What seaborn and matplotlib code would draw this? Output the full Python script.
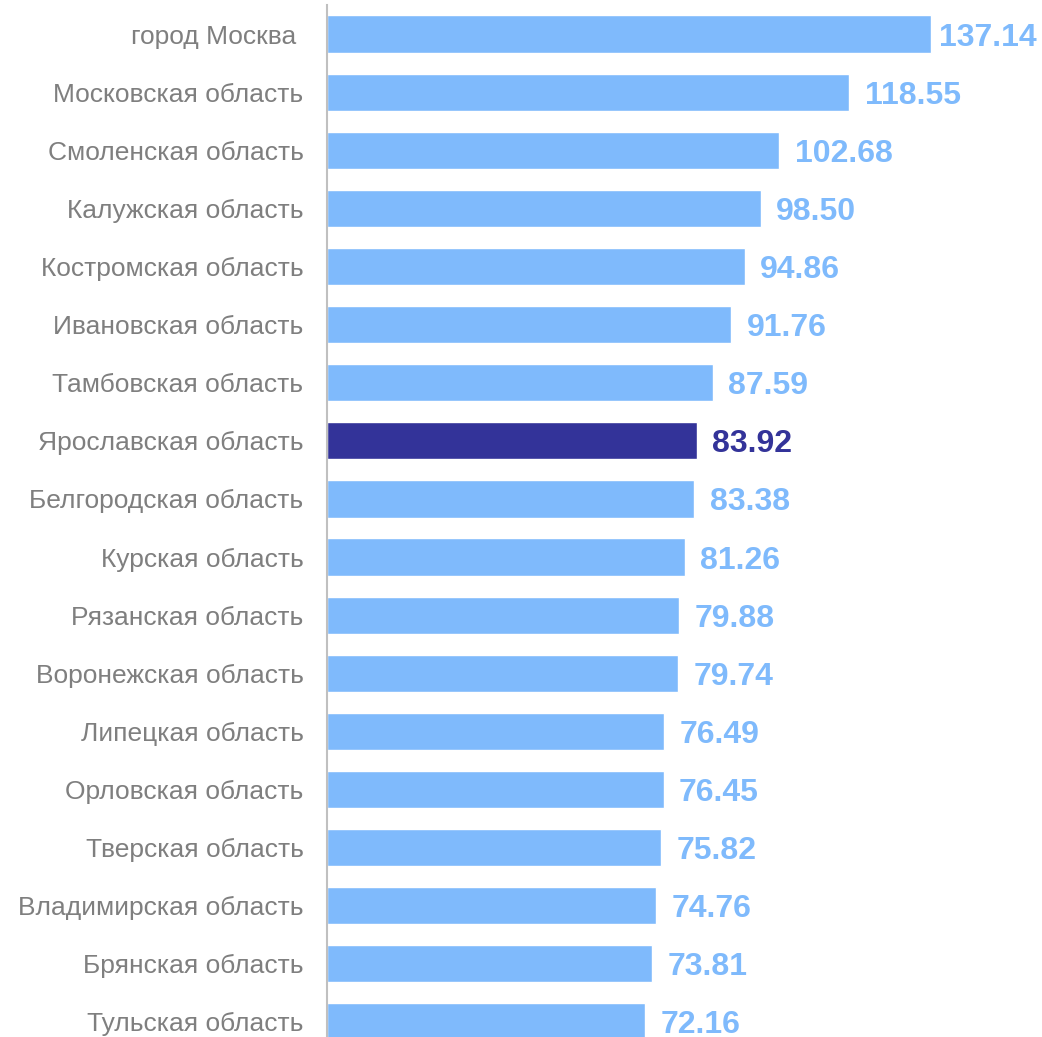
import matplotlib.pyplot as plt
import seaborn as sns

regions = ['город Москва ', 'Московская область', 'Смоленская область', 'Калужская область',
           'Костромская область', 'Ивановская область', 'Тамбовская область', 'Ярославская область',
           'Белгородская область', 'Курская область', 'Рязанская область', 'Воронежская область',
           'Липецкая область', 'Орловская область', 'Тверская область', 'Владимирская область',
           'Брянская область', 'Тульская область']
values = [137.14, 118.55, 102.68, 98.50, 94.86, 91.76, 87.59, 83.92, 83.38, 81.26,
          79.88, 79.74, 76.49, 76.45, 75.82, 74.76, 73.81, 72.16]
highlight = 'Ярославская область'

light = '#7fbafc'
dark = '#333399'
palette = {r: (dark if r == highlight else light) for r in regions}

sns.set_style('white')
plt.rcParams['font.family'] = ['Liberation Sans', 'DejaVu Sans']

fig = plt.figure(figsize=(10.42, 10.37), dpi=100)
ax = fig.add_axes([327 / 1042, -14 / 1037, 715 / 1042, 1046 / 1037])

sns.barplot(x=values, y=regions, hue=regions, palette=palette, legend=False,
            orient='h', width=0.64, saturation=1, ax=ax)

# value labels, the top one squeezed in a bit like the original
for i, (r, v) in enumerate(zip(regions, values)):
    ax.annotate(f'{v:.2f}', xy=(v, i), xytext=(6 if i == 0 else 11, 0),
                textcoords='offset points', va='center_baseline', ha='left',
                fontsize=23, fontweight='bold', color=palette[r])

ax.set_xlim(0, 162.3)
ax.set_ylim(17.5, -0.5)
ax.set_xlabel('')
ax.set_ylabel('')
ax.set_xticks([])
ax.tick_params(axis='y', length=0, pad=17, labelsize=19, labelcolor='#7f7f7f')

for s in ['top', 'right', 'bottom']:
    ax.spines[s].set_visible(False)
ax.spines['left'].set_color('#c0c0c0')
ax.spines['left'].set_linewidth(1.5)

fig.savefig('out.png', dpi=100)
